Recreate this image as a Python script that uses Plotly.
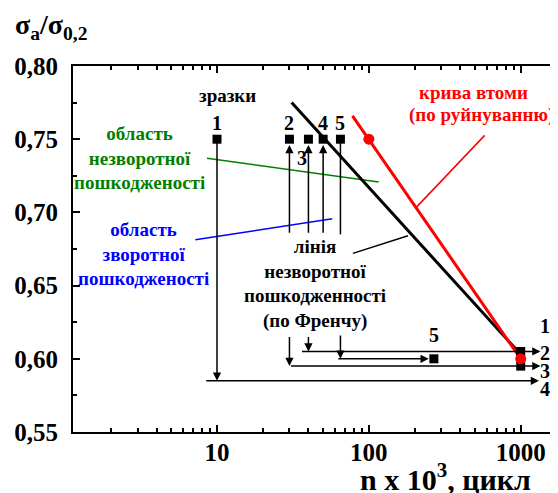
import math
import plotly.graph_objects as go

FONT = "Liberation Serif, Times New Roman, serif"

# ---- data ----
spec_x = [10, 30, 40, 50, 65]           # specimens 1..5 (n x 10^3)
spec_y = [0.75, 0.75, 0.75, 0.75, 0.75]
end_x = [1000, 1000, 268]               # final points of specimens
end_y = [0.605, 0.595, 0.60]
fat_mark_x = [100, 1000]                 # fatigue curve points
fat_mark_y = [0.75, 0.60]
fat_line_x = [78, 1000]
fat_line_y = [0.766, 0.60]
french_x = [31, 1000]
french_y = [0.775, 0.603]
green_x = [8.6, 116]
green_y = [0.737, 0.7207]
blue_x = [7.2, 57.4]
blue_y = [0.6813, 0.6956]
redptr_x = [579, 206]
redptr_y = [0.7526, 0.7036]
blkptr_x = [78.5, 181]
blkptr_y = [0.672, 0.684]
spec5_x = [65, 65]
spec5_y = [0.685, 0.75]

# arrows: (tail_x, tail_y, head_x, head_y)
arrows = [
    (10, 0.75, 10, 0.585),
    (30, 0.685, 30, 0.746),
    (40, 0.685, 40, 0.746),
    (50, 0.685, 50, 0.746),
    (30, 0.616, 30, 0.595),
    (40, 0.616, 40, 0.605),
    (65, 0.617, 65, 0.60),
    (8.3, 0.585, 1320, 0.585),
    (30, 0.595, 1350, 0.595),
    (35.5, 0.605, 1350, 0.605),
    (61.5, 0.60, 248, 0.60),
]

y_ticks = [0.55, 0.60, 0.65, 0.70, 0.75, 0.80]
y_ticktext = ["0,55", "0,60", "0,65", "0,70", "0,75", "0,80"]
y_minor = [0.575, 0.625, 0.675, 0.725, 0.775]
x_ticks = [10, 100, 1000]
x_ticktext = ["10", "100", "1000"]
x_minor = [2, 3, 4, 5, 6, 7, 8, 9, 20, 30, 40, 50, 60, 70, 80, 90,
           200, 300, 400, 500, 600, 700, 800, 900]

# labels: (text, x, y, size, color)
labels = [
    ("зразки", 11.8, 0.780, 19, "black"),
    ("1", 10, 0.7614, 20, "black"),
    ("2", 30, 0.7614, 20, "black"),
    ("3", 36.2, 0.7375, 20, "black"),
    ("4", 50, 0.7614, 20, "black"),
    ("5", 65, 0.7614, 20, "black"),
    ("5", 268, 0.616, 20, "black"),
    ("1", 1445, 0.6225, 20, "black"),
    ("2", 1445, 0.6043, 20, "black"),
    ("3", 1445, 0.5920, 20, "black"),
    ("4", 1445, 0.5797, 20, "black"),
    ("область<br>незворотної<br>пошкодженості", 3.11, 0.7375, 19, "green"),
    ("область<br>зворотної<br>пошкодженості", 3.26, 0.6719, 19, "blue"),
    ("лінія<br>незворотної<br>пошкодженності<br>(по Френчу)", 44.2, 0.6514, 19, "black"),
    ("крива втоми", 492, 0.782, 19, "red"),
    ("(по руйнуванню)", 556, 0.7663, 19, "red"),
]

fig = go.Figure()

def line(x, y, color, width):
    fig.add_trace(go.Scatter(x=x, y=y, mode="lines", line=dict(color=color, width=width),
                             hoverinfo="skip", showlegend=False))

line(green_x, green_y, "green", 1.5)
line(blue_x, blue_y, "blue", 1.5)
line(redptr_x, redptr_y, "red", 1.5)
line(blkptr_x, blkptr_y, "black", 1.5)
line(spec5_x, spec5_y, "black", 1.5)
line(french_x, french_y, "black", 3)
line(fat_line_x, fat_line_y, "red", 3)

fig.add_trace(go.Scatter(x=spec_x, y=spec_y, mode="markers",
                         marker=dict(symbol="square", size=9, color="black"), showlegend=False))
fig.add_trace(go.Scatter(x=end_x, y=end_y, mode="markers",
                         marker=dict(symbol="square", size=9, color="black"), showlegend=False))
fig.add_trace(go.Scatter(x=fat_mark_x, y=fat_mark_y, mode="markers",
                         marker=dict(symbol="circle", size=11, color="red"), showlegend=False))

# invisible trace on minor-tick axis so it renders
fig.add_trace(go.Scatter(x=[10], y=[0.7], xaxis="x2", mode="markers",
                         marker=dict(opacity=0), hoverinfo="skip", showlegend=False))

ann = []
for tx, ty, hx, hy in arrows:
    ann.append(dict(x=math.log10(hx), y=hy, ax=math.log10(tx), ay=ty,
                    xref="x", yref="y", axref="x", ayref="y", text="",
                    showarrow=True, arrowhead=2, arrowsize=1.1, arrowwidth=1.5,
                    arrowcolor="black", standoff=0, startstandoff=0))
for t, x, y, s, c in labels:
    ann.append(dict(x=math.log10(x), y=y, xref="x", yref="y", text="<b>" + t + "</b>",
                    showarrow=False, font=dict(family=FONT, size=s, color=c),
                    xanchor="center", yanchor="middle"))

ann.append(dict(x=-0.124, y=1.108, xref="paper", yref="paper",
                text="<b>σ<sub>a</sub>/σ<sub>0,2</sub></b>", showarrow=False,
                font=dict(family=FONT, size=28, color="black"),
                xanchor="left", yanchor="middle"))
ann.append(dict(x=0.769, y=-0.123, xref="paper", yref="paper",
                text="<b>n x 10<sup>3</sup>, цикл</b>", showarrow=False,
                font=dict(family=FONT, size=30, color="black"),
                xanchor="center", yanchor="middle"))

xr = [0.0517, 3.2456]
fig.update_layout(
    width=550, height=485,
    margin=dict(l=65, r=0, t=58, b=61),
    plot_bgcolor="white", paper_bgcolor="white",
    font=dict(family=FONT),
    annotations=ann,
    xaxis=dict(type="log", range=xr, tickvals=x_ticks, ticktext=x_ticktext,
               ticks="inside", ticklen=7, tickwidth=1.5, tickcolor="black",
               ticklabelstandoff=-3,
               showline=True, linewidth=2, linecolor="black", mirror="allticks",
               showgrid=False, zeroline=False,
               tickfont=dict(family=FONT, size=25, color="black", weight="bold")),
    xaxis2=dict(type="log", range=xr, overlaying="x", anchor="y", side="bottom",
                tickvals=x_minor, ticks="inside", ticklen=4, tickwidth=1.5,
                tickcolor="black", showticklabels=False, showline=True, linewidth=2,
                linecolor="black", mirror="allticks", showgrid=False, zeroline=False),
    yaxis=dict(range=[0.55, 0.80], tickvals=y_ticks, ticktext=y_ticktext,
               ticks="inside", ticklen=7, tickwidth=1.5, tickcolor="black",
               ticklabelstandoff=8,
               minor=dict(ticks="inside", ticklen=4, tickwidth=1.5, tickcolor="black",
                          tickvals=y_minor),
               showline=True, linewidth=2, linecolor="black",
               showgrid=False, zeroline=False,
               tickfont=dict(family=FONT, size=25, color="black", weight="bold")),
)

fig.write_html("out.html")
